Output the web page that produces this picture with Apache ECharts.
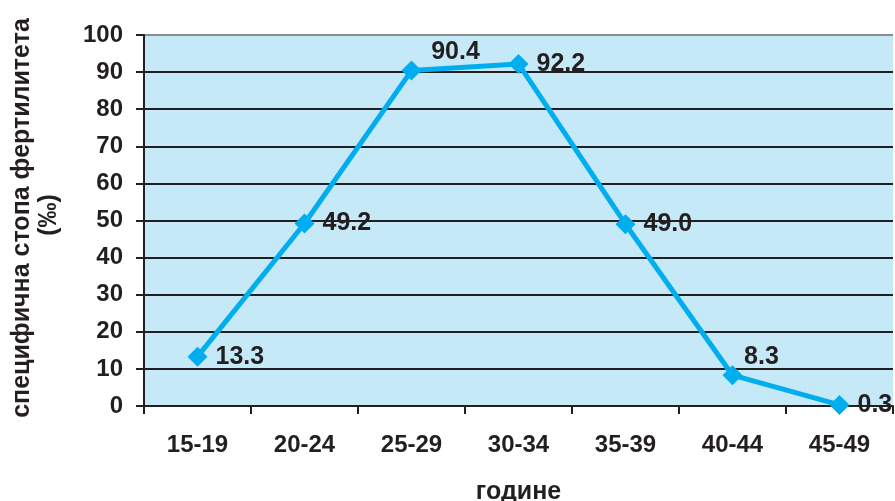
<!DOCTYPE html>
<html>
<head>
<meta charset="utf-8">
<script src="https://cdn.jsdelivr.net/npm/echarts@6/dist/echarts.min.js"></script>
<style>
  html, body { margin: 0; padding: 0; background: #fff; }
  #chart { width: 895px; height: 501px; }
</style>
</head>
<body>
<div id="chart"></div>
<script>
// Age groups and specific fertility rate (per mille)
const ageGroups = ['15-19', '20-24', '25-29', '30-34', '35-39', '40-44', '45-49'];
const fertilityRates = [13.3, 49.2, 90.4, 92.2, 49.0, 8.3, 0.3];
const yTicks = [0, 10, 20, 30, 40, 50, 60, 70, 80, 90, 100];

const FONT = '"Liberation Sans", Arial, sans-serif';
const TEXT = '#231f20';

// label placement tweaks for the points near the peak and the tail
const labelOffsets = { 2: [44, -19], 5: [29, -18] };

const seriesData = fertilityRates.map((v, i) => {
  const item = { value: v };
  if (labelOffsets[i]) {
    item.label = { position: 'inside', offset: labelOffsets[i] };
  }
  return item;
});

const chart = echarts.init(document.getElementById('chart'));
chart.setOption({
  backgroundColor: '#ffffff',
  animation: false,
  grid: { left: 144, right: 2, top: 35, bottom: 95,
          outerBoundsMode: 'none', containLabel: false,
          show: true, backgroundColor: '#c6e9f8', borderWidth: 0 },
  xAxis: {
    type: 'category',
    data: ageGroups,
    boundaryGap: true,
    name: 'године',
    nameLocation: 'middle',
    nameGap: 74,
    nameTextStyle: { fontFamily: FONT, fontWeight: 'bold', fontSize: 25, color: TEXT },
    axisLine: { lineStyle: { color: '#231f20', width: 2 } },
    axisTick: { show: true, length: 8, lineStyle: { color: '#231f20', width: 2 } },
    axisLabel: { margin: 27, fontFamily: FONT, fontWeight: 'bold', fontSize: 24, color: TEXT },
    splitLine: { show: false }
  },
  yAxis: {
    type: 'value',
    min: yTicks[0],
    max: yTicks[yTicks.length - 1],
    interval: 10,
    axisLine: { show: true, lineStyle: { color: '#231f20', width: 2 } },
    axisTick: { show: true, length: 8, lineStyle: { color: '#231f20', width: 2 } },
    axisLabel: { margin: 21, fontFamily: FONT, fontWeight: 'bold', fontSize: 24, color: TEXT },
    splitLine: {
      show: true,
      lineStyle: {
        width: 2,
        color: yTicks.map((t, i) => i === yTicks.length - 1 ? '#8c8c8c' : '#231f20')
      }
    }
  },
  graphic: [
    {
      type: 'text', x: 22, y: 218, rotation: Math.PI / 2,
      style: { text: 'специфична стопа фертилитета', fill: TEXT,
               font: 'bold 25px ' + FONT, textAlign: 'center', textVerticalAlign: 'middle' }
    },
    {
      type: 'text', x: 49, y: 215, rotation: Math.PI / 2,
      style: { text: '(‰)', fill: TEXT,
               font: 'bold 25px ' + FONT, textAlign: 'center', textVerticalAlign: 'middle' }
    }
  ],
  series: [{
    type: 'line',
    data: seriesData,
    symbol: 'diamond',
    symbolSize: 20,
    lineStyle: { color: '#00aeef', width: 5 },
    itemStyle: { color: '#00aeef' },
    label: {
      show: true,
      position: 'right',
      distance: 8,
      formatter: p => p.value.toFixed(1),
      fontFamily: FONT, fontWeight: 'bold', fontSize: 25, color: TEXT
    },
    clip: false,
    z: 5
  }]
});
</script>
</body>
</html>
